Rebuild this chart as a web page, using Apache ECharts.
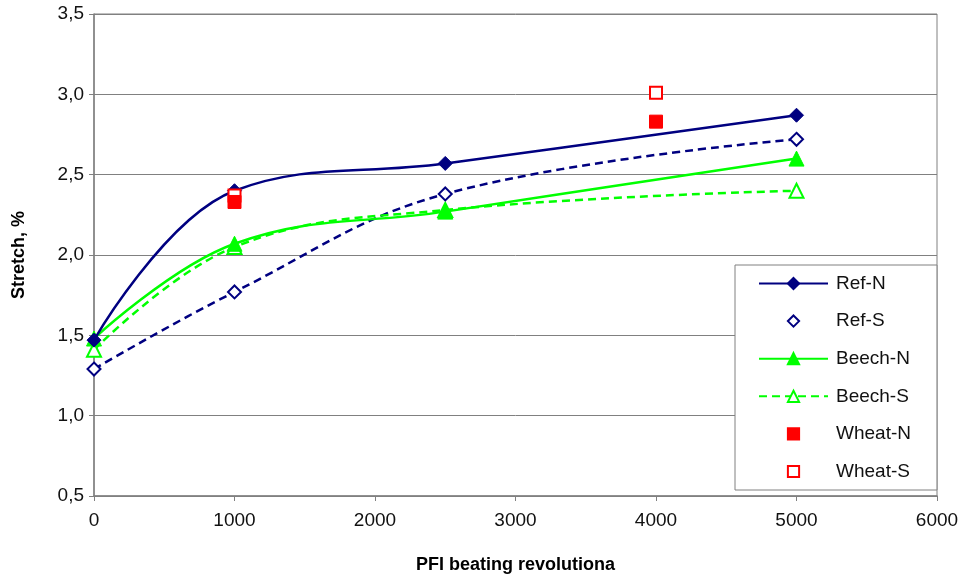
<!DOCTYPE html>
<html><head><meta charset="utf-8">
<script src="https://cdn.jsdelivr.net/npm/echarts@6/dist/echarts.min.js"></script>
<style>html,body{margin:0;padding:0;background:#fff}#c{width:971px;height:579px}</style>
</head><body><div id="c"></div>
<script>
var refN = [[0,1.47],[1000,2.40],[2500,2.57],[5000,2.87]];
var refS = [[0,1.29],[1000,1.77],[2500,2.38],[5000,2.72]];
var beechN = [[0,1.48],[1000,2.07],[2500,2.27],[5000,2.60]];
var beechS = [[0,1.41],[1000,2.05],[2500,2.28],[5000,2.40]];
var wheatN = [[1000,2.33],[4000,2.83]];
var wheatS = [[1000,2.37],[4000,3.01]];
var xTicks = [0,1000,2000,3000,4000,5000,6000];
var yTicks = [0.5,1.0,1.5,2.0,2.5,3.0,3.5];

var NAVY = '#000080', GREEN = '#00ff00', RED = '#ff0000';
var FONT = 'Liberation Sans, Arial, sans-serif';
var chart = echarts.init(document.getElementById('c'));
chart.setOption({
  animation: false,
  backgroundColor: '#fff',
  grid: {left: 94, right: 34, top: 14, bottom: 82, show: true, borderColor: '#808080', borderWidth: 1},
  xAxis: {
    type: 'value', min: xTicks[0], max: xTicks[xTicks.length-1], interval: 1000,
    name: 'PFI beating revolutiona', nameLocation: 'middle', nameGap: 60,
    nameTextStyle: {fontFamily: FONT, fontSize: 18, fontWeight: 'bold', color: '#000'},
    axisLine: {show: true, lineStyle: {color: '#808080', width: 1.5}},
    axisTick: {show: true, length: 5, lineStyle: {color: '#808080'}},
    axisLabel: {fontFamily: FONT, fontSize: 19, color: '#111', margin: 15,
      formatter: function(v){ return String(v); }},
    splitLine: {show: false}
  },
  yAxis: {
    type: 'value', min: yTicks[0], max: yTicks[yTicks.length-1], interval: 0.5,
    name: 'Stretch, %', nameLocation: 'middle', nameGap: 66,
    nameTextStyle: {fontFamily: FONT, fontSize: 18, fontWeight: 'bold', color: '#000'},
    axisLine: {show: true, lineStyle: {color: '#808080', width: 1.5}},
    axisTick: {show: true, length: 5, lineStyle: {color: '#808080'}},
    axisLabel: {fontFamily: FONT, fontSize: 19, color: '#111', margin: 10,
      formatter: function(v){ return v.toFixed(1).replace('.', ','); }},
    splitLine: {show: true, lineStyle: {color: '#808080', width: 1}}
  },
  legend: {
    orient: 'vertical', left: 735, top: 265,
    padding: [9, 26, 9, 23],
    backgroundColor: '#fff', borderColor: '#808080', borderWidth: 1,
    itemWidth: 69, itemHeight: 14, itemGap: 18.6,
    textStyle: {fontFamily: FONT, fontSize: 19, color: '#111', padding: [0,0,0,3]},
    data: ['Ref-N','Ref-S','Beech-N','Beech-S','Wheat-N','Wheat-S']
  },
  series: [
    {name: 'Ref-S curve', type: 'line', data: refS, smooth: 0.4, symbol: 'none',
     lineStyle: {color: NAVY, width: 2.5, type: [8,5]}, z: 2},
    {name: 'Ref-S', type: 'line', data: refS, symbol: 'diamond', symbolSize: 13,
     lineStyle: {opacity: 0},
     itemStyle: {color: '#fff', borderColor: NAVY, borderWidth: 2}, z: 5},
    {name: 'Beech-S', type: 'line', data: beechS, smooth: 0.4, symbol: 'triangle', symbolSize: 14,
     lineStyle: {color: GREEN, width: 2.5, type: [8,5]},
     itemStyle: {color: '#fff', borderColor: GREEN, borderWidth: 2}, z: 3},
    {name: 'Beech-N', type: 'line', data: beechN, smooth: 0.4, symbol: 'triangle', symbolSize: 15,
     lineStyle: {color: GREEN, width: 2.5},
     itemStyle: {color: GREEN, borderColor: GREEN, borderWidth: 1}, z: 4},
    {name: 'Ref-N', type: 'line', data: refN, smooth: 0.4, symbol: 'diamond', symbolSize: 14,
     lineStyle: {color: NAVY, width: 2.5},
     itemStyle: {color: NAVY, borderColor: NAVY, borderWidth: 1}, z: 6},
    {name: 'Wheat-S', type: 'line', data: wheatS, symbol: 'rect', symbolSize: 12,
     lineStyle: {opacity: 0},
     itemStyle: {color: '#fff', borderColor: RED, borderWidth: 2}, z: 7},
    {name: 'Wheat-N', type: 'line', data: wheatN, symbol: 'rect', symbolSize: 13,
     lineStyle: {opacity: 0},
     itemStyle: {color: RED, borderColor: RED, borderWidth: 1}, z: 8}
  ]
});
</script></body></html>
